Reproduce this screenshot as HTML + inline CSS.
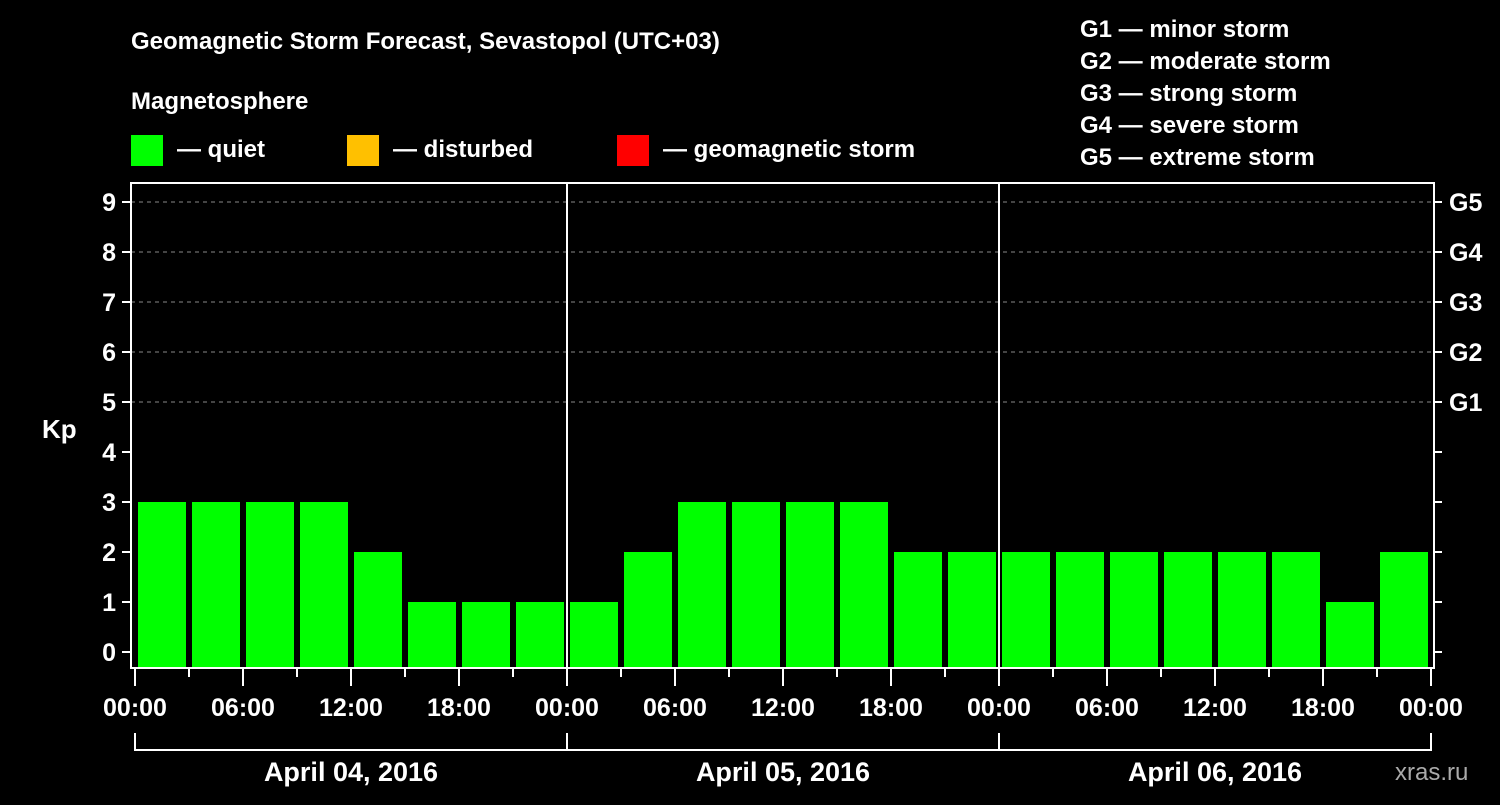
<!DOCTYPE html>
<html><head><meta charset="utf-8"><style>
html,body{margin:0;padding:0;background:#000;}
svg text{font-family:"Liberation Sans",Arial,sans-serif;font-weight:bold;fill:#fff;}
</style></head><body>
<svg id="chart" width="1500" height="800" xmlns="http://www.w3.org/2000/svg">
<rect width="1500" height="800" fill="#000"/>
<text x="131" y="49" font-size="24">Geomagnetic Storm Forecast, Sevastopol (UTC+03)</text>
<text x="131" y="109" font-size="24">Magnetosphere</text>
<rect x="131" y="135" width="32" height="31" fill="#00ff00"/>
<text x="177" y="157" font-size="24">— quiet</text>
<rect x="347" y="135" width="32" height="31" fill="#ffc000"/>
<text x="393" y="157" font-size="24">— disturbed</text>
<rect x="617" y="135" width="32" height="31" fill="#ff0000"/>
<text x="663" y="157" font-size="24">— geomagnetic storm</text>
<g font-size="24">
<text x="1080" y="37">G1 — minor storm</text>
<text x="1080" y="69">G2 — moderate storm</text>
<text x="1080" y="101">G3 — strong storm</text>
<text x="1080" y="133">G4 — severe storm</text>
<text x="1080" y="165">G5 — extreme storm</text>
</g>
<text x="42" y="438" font-size="26">Kp</text>
<text x="1395" y="780" font-size="24" style="fill:#aaa;font-weight:normal">xras.ru</text>
<g id="grid"></g><g id="bars"></g><g id="axes"></g>
</svg>
<script>
const kpValues = [3,3,3,3,2,1,1,1, 1,2,3,3,3,3,2,2, 2,2,2,2,2,2,1,2];
const yTicks = [0,1,2,3,4,5,6,7,8,9];
const gLabels = ["G1","G2","G3","G4","G5"];
const gLevels = [5,6,7,8,9];
const xTickLabels = ["00:00","06:00","12:00","18:00","00:00","06:00","12:00","18:00","00:00","06:00","12:00","18:00","00:00"];
const dayLabels = ["April 04, 2016","April 05, 2016","April 06, 2016"];

const NS="http://www.w3.org/2000/svg";
const L=131,R=1434,T=183,B=668,X0=135,PXH=18;
function yS(v){return 652-50*v;}
function xS(h){return X0+h*PXH;}
function mk(p,tag,at,txt){const e=document.createElementNS(NS,tag);for(const k in at)e.setAttribute(k,at[k]);if(txt!=null)e.textContent=txt;p.appendChild(e);return e;}
const grid=document.getElementById('grid'),bars=document.getElementById('bars'),axes=document.getElementById('axes');
gLevels.forEach(v=>{const l=mk(grid,'line',{x1:L,x2:R,y1:yS(v),y2:yS(v),stroke:'#888','stroke-dasharray':'4,4','stroke-width':1});

});
kpValues.forEach((v,i)=>{const x=xS(i*3)+3;const r=mk(bars,'rect',{x:x,y:yS(v),width:48,height:(B-1)-yS(v),fill:'#00ff00'});

});
const fr=mk(axes,'rect',{x:L,y:T,width:R-L,height:B-T,fill:'none',stroke:'#fff','stroke-width':2});


[1,2].forEach(d=>{const l=mk(axes,'line',{x1:xS(d*24),x2:xS(d*24),y1:T,y2:B,stroke:'#fff','stroke-width':2});

});
yTicks.forEach(v=>{mk(axes,'line',{x1:122,x2:L,y1:yS(v),y2:yS(v),stroke:'#fff','stroke-width':2});
mk(axes,'line',{x1:R,x2:R+8,y1:yS(v),y2:yS(v),stroke:'#fff','stroke-width':2});
const t=mk(axes,'text',{x:116,y:yS(v)+9,'font-size':25,'text-anchor':'end'},String(v));

});
gLabels.forEach((g,i)=>{const t=mk(axes,'text',{x:1449,y:yS(gLevels[i])+9,'font-size':25},g);

});
for(let h=0;h<=72;h+=3){const major=h%6===0;mk(axes,'line',{x1:xS(h),x2:xS(h),y1:B,y2:major?686:677,stroke:'#fff','stroke-width':2});}
xTickLabels.forEach((s,i)=>{const t=mk(axes,'text',{x:xS(i*6),y:716,'font-size':25,'text-anchor':'middle'},s);

});
mk(axes,'path',{d:`M${xS(0)},733 V750 H${xS(72)} V733 M${xS(24)},733 V750 M${xS(48)},733 V750`,stroke:'#fff','stroke-width':2,fill:'none'});
dayLabels.forEach((s,i)=>{const t=mk(axes,'text',{x:xS(i*24+12),y:781,'font-size':27,'text-anchor':'middle'},s);

});
</script>
</body></html>
